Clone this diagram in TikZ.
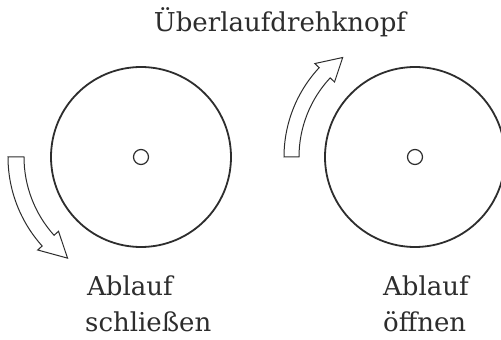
\documentclass[tikz,border=0pt]{standalone}
\usepackage{fontspec}
\setmainfont{DejaVu Serif}
\usetikzlibrary{calc}
\definecolor{ink}{RGB}{45,45,45}
\begin{document}
\begin{tikzpicture}[x=1pt,y=1pt,
  knob/.style={circle,draw=ink,line width=1.8pt,minimum size=180pt,inner sep=0pt},
  hole/.style={circle,draw=ink,line width=1.2pt,minimum size=15pt,inner sep=0pt},
  blockarrow/.style={draw=ink,line width=1pt,fill=white,line join=miter},
  label/.style={font=\fontsize{26}{36}\selectfont,text=ink,inner sep=0pt}]
\useasboundingbox (0,0) rectangle (501,340);
\clip (0,0) rectangle (501,340);
\fill[white] (0,0) rectangle (501,340);
% knobs
\node[knob] (knobL) at (141,183) {};
\node[hole] (holeL) at (knobL.center) {};
\node[knob] (knobR) at (415,183) {};
\node[hole] (holeR) at (knobR.center) {};
% left arrow (down)
\coordinate (cL) at (141,183);
\draw[blockarrow] ($(cL)+(180:133)$) arc[start angle=180,end angle=222,radius=133]
  -- ($(cL)+(222:139)$) -- ($(cL)+(234:125)$) -- ($(cL)+(222:111)$)
  -- ($(cL)+(222:117)$) arc[start angle=222,end angle=180,radius=117] -- cycle;
% right arrow (up)
\coordinate (cR) at (415,183);
\draw[blockarrow] ($(cR)+(180:131)$) arc[start angle=180,end angle=137,radius=131]
  -- ($(cR)+(137:137)$) -- ($(cR)+(126:123)$) -- ($(cR)+(137:110)$)
  -- ($(cR)+(137:116)$) arc[start angle=137,end angle=180,radius=116] -- cycle;
% texts
\node[label,anchor=base] (title) at (280,308) {Überlaufdrehknopf};
\node[label,anchor=base west] (l1) at (87,44) {Ablauf};
\node[label,anchor=base west] (l2) at (85,8) {schließen};
\node[label,anchor=base west] (r1) at (383,44) {Ablauf};
\node[label,anchor=base west] (r2) at (383,8) {öffnen};
\end{tikzpicture}
\end{document}
